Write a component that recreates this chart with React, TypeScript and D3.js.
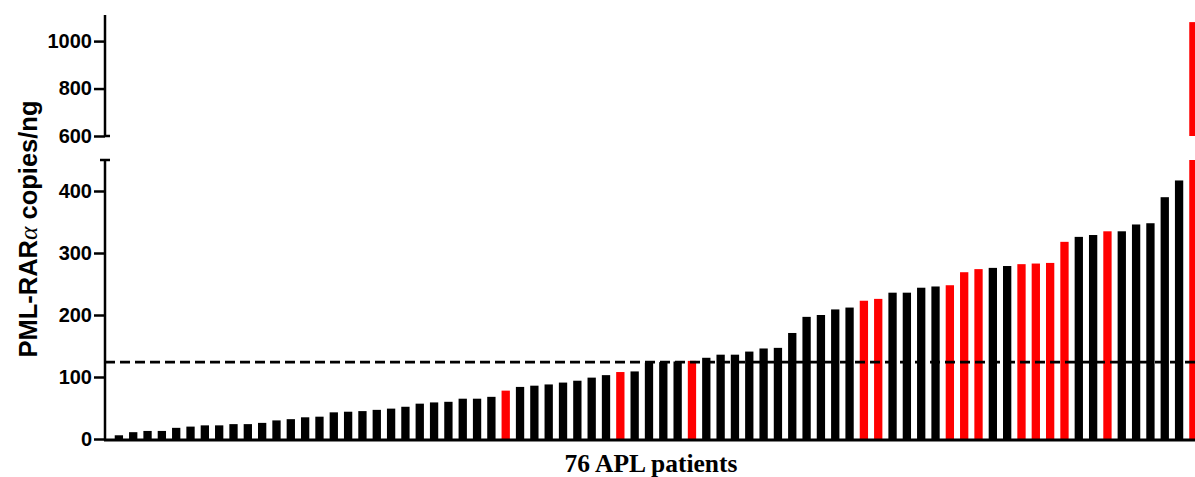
import React, {useEffect, useRef} from 'react';
import * as d3 from 'd3';

// PML-RARa copies/ng for the 76 APL patients, sorted ascending
const copies = [
    6, 11, 13, 13, 18, 20, 22, 22, 24, 24, 26, 30, 32, 35, 36, 43, 44, 45, 47, 49,
    52, 57, 59, 60, 65, 65, 68, 78, 84, 86, 88, 91, 94, 99, 103, 108, 109, 123, 124, 125,
    126, 131, 136, 136, 141, 146, 147, 171, 197, 200, 209, 212, 223, 226, 236, 236, 244, 246, 248, 269,
    274, 276, 279, 282, 283, 284, 318, 326, 329, 335, 335, 346, 348, 390, 417, 1080,
];
// patients drawn in red
const redPatients = [27, 35, 40, 52, 53, 58, 59, 60, 63, 64, 65, 66, 69, 75];
const threshold = 124;
const lowTicks = [0, 100, 200, 300, 400];
const highTicks = [600, 800, 1000];

const W = 1195;
const H = 477;

const App = () => {
    const svgRef = useRef<SVGSVGElement>(null);

    useEffect(() => {
        const svg = d3.select(svgRef.current);
        svg.selectAll('*').remove();

        const axisX = 105;
        const x = d3.scaleBand<number>()
            .domain(copies.map((_, i) => i))
            .range([104.7, 1207.6])
            .paddingInner(0.42)
            .paddingOuter(0.7);

        // broken y axis: two segments
        const yLow = d3.scaleLinear().domain([0, 450]).range([439, 160]);
        const yHigh = d3.scaleLinear().domain([600, 1110]).range([136, 15]);

        const isRed = (i) => redPatients.includes(i);

        // lower bars
        svg.append('g')
            .selectAll('rect')
            .data(copies)
            .enter()
            .append('rect')
            .attr('x', (d, i) => x(i))
            .attr('width', x.bandwidth())
            .attr('y', d => yLow(Math.min(d, 450)))
            .attr('height', d => yLow(0) - yLow(Math.min(d, 450)))
            .attr('fill', (d, i) => isRed(i) ? '#ff0000' : '#000');

        // upper parts of bars above the break
        svg.append('g')
            .selectAll('rect')
            .data(copies.map((v, i) => ({v, i})).filter(d => d.v > 600))
            .enter()
            .append('rect')
            .attr('x', d => x(d.i))
            .attr('width', x.bandwidth())
            .attr('y', d => yHigh(d.v))
            .attr('height', d => yHigh(600) - yHigh(d.v))
            .attr('fill', d => isRed(d.i) ? '#ff0000' : '#000');

        // threshold dashed line
        svg.append('line')
            .attr('x1', axisX)
            .attr('x2', W)
            .attr('y1', yLow(threshold))
            .attr('y2', yLow(threshold))
            .attr('stroke', '#000')
            .attr('stroke-width', 2.6)
            .attr('stroke-dasharray', '10,5');

        // x axis line
        svg.append('line')
            .attr('x1', axisX - 1)
            .attr('x2', W)
            .attr('y1', 440)
            .attr('y2', 440)
            .attr('stroke', '#000')
            .attr('stroke-width', 3);

        const styleAxis = (g) => {
            g.select('.domain').remove();
            g.selectAll('line').attr('stroke', '#000').attr('stroke-width', 2.5);
            g.selectAll('text')
                .attr('fill', '#000')
                .style('font-family', '"Liberation Sans", Arial, sans-serif')
                .style('font-weight', 'bold')
                .style('font-size', '20px');
        };

        svg.append('g')
            .attr('transform', `translate(${axisX},0)`)
            .call(d3.axisLeft(yLow).tickValues(lowTicks).tickSize(11).tickPadding(2).tickFormat(d3.format('d')))
            .call(styleAxis);

        svg.append('g')
            .attr('transform', `translate(${axisX},0)`)
            .call(d3.axisLeft(yHigh).tickValues(highTicks).tickSize(11).tickPadding(2).tickFormat(d3.format('d')))
            .call(styleAxis);

        // axis segments and break caps
        const axisG = svg.append('g').attr('stroke', '#000').attr('stroke-width', 2.5);
        axisG.append('line').attr('x1', axisX).attr('x2', axisX).attr('y1', yLow(0) + 1.5).attr('y2', yLow(450));
        axisG.append('line').attr('x1', axisX - 5).attr('x2', axisX + 5).attr('y1', yLow(450)).attr('y2', yLow(450));
        axisG.append('line').attr('x1', axisX).attr('x2', axisX).attr('y1', yHigh(600)).attr('y2', yHigh(1110));
        axisG.append('line').attr('x1', axisX).attr('x2', axisX + 5).attr('y1', yHigh(600)).attr('y2', yHigh(600));

        // y title
        const title = svg.append('text')
            .attr('transform', `translate(37,229) rotate(-90)`)
            .attr('text-anchor', 'middle')
            .attr('fill', '#000')
            .style('font-family', '"Liberation Sans", Arial, sans-serif')
            .style('font-weight', 'bold')
            .style('font-size', '25.5px');
        title.append('tspan').text('PML-RAR');
        title.append('tspan')
            .style('font-family', '"Liberation Serif", serif')
            .style('font-weight', 'normal')
            .style('font-style', 'italic')
            .text('\u03b1');
        title.append('tspan').text(' copies/ng');

        // x title
        svg.append('text')
            .attr('x', 651)
            .attr('y', 472)
            .attr('text-anchor', 'middle')
            .attr('fill', '#000')
            .style('font-family', '"Liberation Serif", "Times New Roman", serif')
            .style('font-weight', 'bold')
            .style('font-size', '25.5px')
            .text('76 APL patients');
    }, []);

    return (
        <svg ref={svgRef} width={W} height={H}
             style={{position: 'absolute', left: 0, top: 0, background: '#fff'}}/>
    );
};

export default App;
